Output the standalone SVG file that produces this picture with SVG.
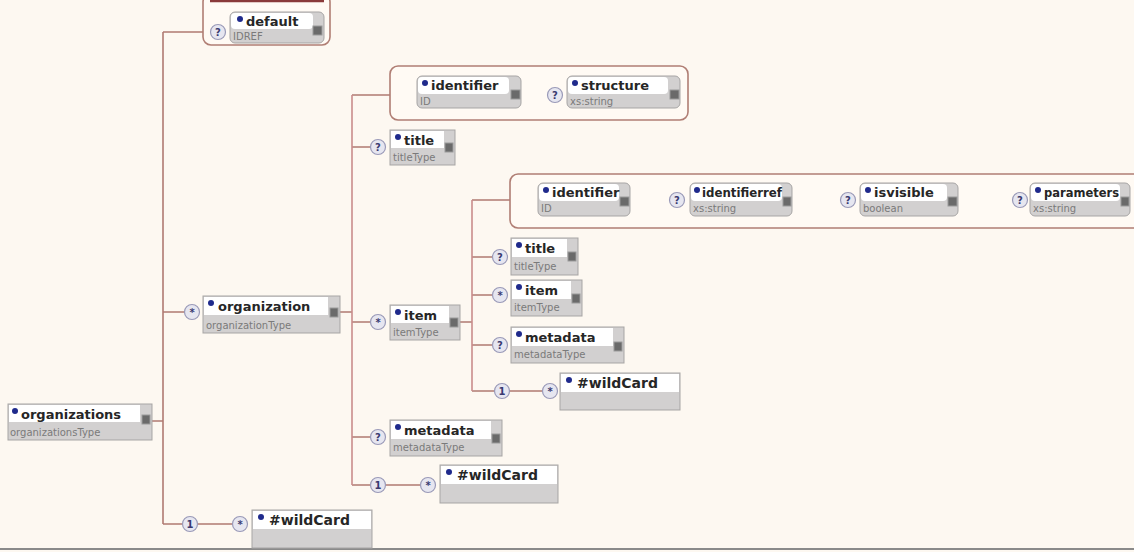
<svg xmlns="http://www.w3.org/2000/svg" width="1134" height="552" viewBox="0 0 1134 552">
<style>
.bg{fill:#fdf8f1}
.cn{fill:none;stroke:#b07a72;stroke-width:1.6}
.cnr{fill:none;stroke:#c98c8c;stroke-width:1.6}
.grp{fill:#fffaf4;stroke:#b07e74;stroke-width:1.6}
.box{fill:#d2d0d0;stroke:#a7a5a5;stroke-width:1}
.abox{fill:#d2d0d0;stroke:#a7a5a5;stroke-width:1}
.top{fill:#ffffff}
.dot{fill:#1f2a8c}
.nm{font-family:"DejaVu Sans",Verdana,sans-serif;font-size:13px;font-weight:bold;fill:#262626}
.wc{font-family:"DejaVu Sans",Verdana,sans-serif;font-size:14px;font-weight:bold;fill:#262626}
.ty{font-family:"DejaVu Sans",Verdana,sans-serif;font-size:10px;fill:#7a7a7a}
.ic{fill:#6a6a6a;stroke:#9a9a9a;stroke-width:1}
.cc{fill:#e6e6f0;stroke:#9a9ab8;stroke-width:1.2}
.cs{font-family:"DejaVu Sans",Verdana,sans-serif;font-size:10px;font-weight:bold;fill:#3a3a70;text-anchor:middle}
</style>
<rect class="bg" x="0" y="0" width="1134" height="552"/>
<line x1="0" y1="549" x2="1134" y2="549" stroke="#8a8a8a" stroke-width="2"/>

<g id="connectors">
  <path class="cn" d="M152,421 H163 M163,32 V524 M163,32 H210 M163,312 H184 M163,524 H182 M198,524 H232"/>
  <path class="cn" d="M340,312 H352 M352,95 H390 M352,147 H370 M352,322 H370 M352,437 H370 M352,485 H370 M386,485 H420"/>
  <path class="cnr" d="M352,95 V485"/>
  <path class="cn" d="M460,322 H472 M472,200 H510 M472,257 H492 M472,295 H492 M472,345 H492 M472,391 H494 M510,391 H542"/>
  <path class="cnr" d="M472,200 V391"/>
</g>

<!-- organizations -->
<g id="n-organizations">
  <rect class="box" x="8" y="404" width="144" height="36"/>
  <rect class="top" x="9" y="405" width="131" height="17"/>
  <circle class="dot" cx="15" cy="411" r="3"/>
  <text class="nm" x="21" y="419">organizations</text>
  <text class="ty" x="10" y="436">organizationsType</text>
  <rect class="ic" x="142" y="415" width="8" height="9"/>
</g>

<!-- default attribute group -->
<g id="n-default">
  <rect class="grp" x="203" y="-6" width="127" height="51" rx="8"/>
  <line x1="210" y1="1" x2="324" y2="1" stroke="#8a3a3a" stroke-width="2.5"/>
  <circle class="cc" cx="218" cy="32" r="7.5"/>
  <text class="cs" x="218" y="36">?</text>
  <rect class="abox" x="230" y="12" width="94" height="31" rx="5"/>
  <rect class="top" x="231" y="13" width="82" height="16" rx="4"/>
  <circle class="dot" cx="240" cy="19" r="3"/>
  <text class="nm" x="246" y="26">default</text>
  <text class="ty" x="233" y="40">IDREF</text>
  <rect class="ic" x="313" y="26" width="9" height="9"/>
</g>

<!-- organization -->
<g id="n-organization">
  <circle class="cc" cx="192" cy="312" r="7.5"/>
  <text class="cs" x="192" y="316">*</text>
  <rect class="box" x="203" y="296" width="137" height="37"/>
  <rect class="top" x="204" y="297" width="124" height="18"/>
  <circle class="dot" cx="211" cy="303" r="3"/>
  <text class="nm" x="218" y="311">organization</text>
  <text class="ty" x="206" y="329">organizationType</text>
  <rect class="ic" x="330" y="308" width="8" height="9"/>
</g>

<!-- organization attributes -->
<g id="n-org-attrs">
  <rect class="grp" x="390" y="66" width="298" height="54" rx="8"/>
  <rect class="abox" x="417" y="76" width="104" height="32" rx="5"/>
  <rect class="top" x="418" y="77" width="91" height="17" rx="4"/>
  <circle class="dot" cx="425" cy="83" r="3"/>
  <text class="nm" x="431" y="90">identifier</text>
  <text class="ty" x="420" y="105">ID</text>
  <rect class="ic" x="511" y="90" width="9" height="9"/>
  <circle class="cc" cx="555" cy="95" r="7.5"/>
  <text class="cs" x="555" y="99">?</text>
  <rect class="abox" x="567" y="76" width="113" height="32" rx="5"/>
  <rect class="top" x="568" y="77" width="100" height="17" rx="4"/>
  <circle class="dot" cx="575" cy="83" r="3"/>
  <text class="nm" x="581" y="90">structure</text>
  <text class="ty" x="570" y="105">xs:string</text>
  <rect class="ic" x="670" y="90" width="9" height="9"/>
</g>

<!-- organization/title -->
<g id="n-org-title">
  <circle class="cc" cx="378" cy="147" r="7.5"/>
  <text class="cs" x="378" y="151">?</text>
  <rect class="box" x="390" y="130" width="65" height="35"/>
  <rect class="top" x="391" y="131" width="53" height="17"/>
  <circle class="dot" cx="398" cy="137" r="3"/>
  <text class="nm" x="404" y="145">title</text>
  <text class="ty" x="393" y="161">titleType</text>
  <rect class="ic" x="445" y="143" width="8" height="9"/>
</g>

<!-- organization/item -->
<g id="n-org-item">
  <circle class="cc" cx="378" cy="322" r="7.5"/>
  <text class="cs" x="378" y="326">*</text>
  <rect class="box" x="390" y="305" width="70" height="35"/>
  <rect class="top" x="391" y="306" width="58" height="17"/>
  <circle class="dot" cx="398" cy="312" r="3"/>
  <text class="nm" x="404" y="320">item</text>
  <text class="ty" x="393" y="336">itemType</text>
  <rect class="ic" x="450" y="318" width="8" height="9"/>
</g>

<!-- item attributes -->
<g id="n-item-attrs">
  <rect class="grp" x="510" y="174" width="640" height="54" rx="8"/>
  <rect class="abox" x="538" y="183" width="92" height="33" rx="5"/>
  <rect class="top" x="539" y="184" width="80" height="17" rx="4"/>
  <circle class="dot" cx="546" cy="190" r="3"/>
  <text class="nm" x="552" y="197">identifier</text>
  <text class="ty" x="541" y="212">ID</text>
  <rect class="ic" x="620" y="197" width="9" height="9"/>
  <circle class="cc" cx="677" cy="200" r="7.5"/>
  <text class="cs" x="677" y="204">?</text>
  <rect class="abox" x="690" y="183" width="102" height="33" rx="5"/>
  <rect class="top" x="691" y="184" width="91" height="17" rx="4"/>
  <circle class="dot" cx="697" cy="190" r="3"/>
  <text class="nm" x="702" y="197" textLength="80" lengthAdjust="spacingAndGlyphs">identifierref</text>
  <text class="ty" x="693" y="212">xs:string</text>
  <rect class="ic" x="783" y="197" width="8" height="9"/>
  <circle class="cc" cx="848" cy="200" r="7.5"/>
  <text class="cs" x="848" y="204">?</text>
  <rect class="abox" x="860" y="183" width="98" height="33" rx="5"/>
  <rect class="top" x="861" y="184" width="86" height="17" rx="4"/>
  <circle class="dot" cx="868" cy="190" r="3"/>
  <text class="nm" x="874" y="197">isvisible</text>
  <text class="ty" x="863" y="212">boolean</text>
  <rect class="ic" x="948" y="197" width="9" height="9"/>
  <circle class="cc" cx="1020" cy="200" r="7.5"/>
  <text class="cs" x="1020" y="204">?</text>
  <rect class="abox" x="1030" y="183" width="100" height="33" rx="5"/>
  <rect class="top" x="1031" y="184" width="89" height="17" rx="4"/>
  <circle class="dot" cx="1038" cy="190" r="3"/>
  <text class="nm" x="1044" y="197" textLength="75" lengthAdjust="spacingAndGlyphs">parameters</text>
  <text class="ty" x="1033" y="212">xs:string</text>
  <rect class="ic" x="1121" y="197" width="8" height="9"/>
</g>

<!-- item/title -->
<g id="n-item-title">
  <circle class="cc" cx="500" cy="257" r="7.5"/>
  <text class="cs" x="500" y="261">?</text>
  <rect class="box" x="511" y="238" width="67" height="37"/>
  <rect class="top" x="512" y="239" width="55" height="18"/>
  <circle class="dot" cx="519" cy="245" r="3"/>
  <text class="nm" x="525" y="253">title</text>
  <text class="ty" x="514" y="270">titleType</text>
  <rect class="ic" x="568" y="252" width="8" height="9"/>
</g>

<!-- item/item -->
<g id="n-item-item">
  <circle class="cc" cx="500" cy="295" r="7.5"/>
  <text class="cs" x="500" y="299">*</text>
  <rect class="box" x="511" y="280" width="71" height="36"/>
  <rect class="top" x="512" y="281" width="59" height="18"/>
  <circle class="dot" cx="519" cy="287" r="3"/>
  <text class="nm" x="525" y="295">item</text>
  <text class="ty" x="514" y="311">itemType</text>
  <rect class="ic" x="572" y="294" width="8" height="9"/>
</g>

<!-- item/metadata -->
<g id="n-item-metadata">
  <circle class="cc" cx="500" cy="345" r="7.5"/>
  <text class="cs" x="500" y="349">?</text>
  <rect class="box" x="511" y="327" width="113" height="36"/>
  <rect class="top" x="512" y="328" width="101" height="18"/>
  <circle class="dot" cx="519" cy="334" r="3"/>
  <text class="nm" x="525" y="342">metadata</text>
  <text class="ty" x="514" y="358">metadataType</text>
  <rect class="ic" x="614" y="342" width="8" height="9"/>
</g>

<!-- item wildcard -->
<g id="n-item-wildcard">
  <circle class="cc" cx="502" cy="391" r="7.5"/>
  <text class="cs" x="502" y="395">1</text>
  <circle class="cc" cx="550" cy="391" r="7.5"/>
  <text class="cs" x="550" y="395">*</text>
  <rect class="box" x="560" y="373" width="120" height="37"/>
  <rect class="top" x="561" y="374" width="118" height="18"/>
  <circle class="dot" cx="569" cy="380" r="3"/>
  <text class="wc" x="577" y="388">#wildCard</text>
</g>

<!-- organization/metadata -->
<g id="n-org-metadata">
  <circle class="cc" cx="378" cy="437" r="7.5"/>
  <text class="cs" x="378" y="441">?</text>
  <rect class="box" x="390" y="420" width="112" height="36"/>
  <rect class="top" x="391" y="421" width="100" height="18"/>
  <circle class="dot" cx="398" cy="427" r="3"/>
  <text class="nm" x="404" y="435">metadata</text>
  <text class="ty" x="393" y="451">metadataType</text>
  <rect class="ic" x="492" y="434" width="8" height="9"/>
</g>

<!-- organization wildcard -->
<g id="n-org-wildcard">
  <circle class="cc" cx="378" cy="485" r="7.5"/>
  <text class="cs" x="378" y="489">1</text>
  <circle class="cc" cx="428" cy="485" r="7.5"/>
  <text class="cs" x="428" y="489">*</text>
  <rect class="box" x="440" y="465" width="118" height="38"/>
  <rect class="top" x="441" y="466" width="116" height="18"/>
  <circle class="dot" cx="449" cy="472" r="3"/>
  <text class="wc" x="457" y="480">#wildCard</text>
</g>

<!-- organizations wildcard -->
<g id="n-orgs-wildcard">
  <circle class="cc" cx="190" cy="524" r="7.5"/>
  <text class="cs" x="190" y="528">1</text>
  <circle class="cc" cx="240" cy="524" r="7.5"/>
  <text class="cs" x="240" y="528">*</text>
  <rect class="box" x="252" y="510" width="120" height="38"/>
  <rect class="top" x="253" y="511" width="118" height="18"/>
  <circle class="dot" cx="261" cy="517" r="3"/>
  <text class="wc" x="269" y="525">#wildCard</text>
</g>
</svg>
